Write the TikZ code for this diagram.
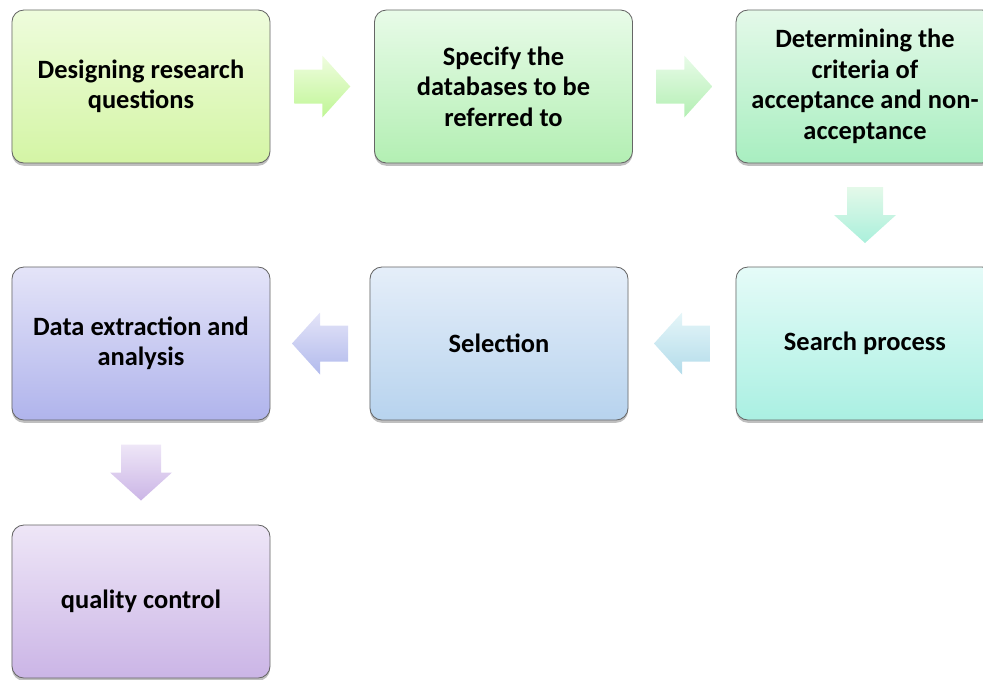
\documentclass[tikz,border=0pt]{standalone}
\usepackage{fontspec}
\setmainfont{Carlito}
\usepackage{tikz}
\usetikzlibrary{shadows,calc}
\definecolor{gA}{HTML}{EEFCDC}\definecolor{gAb}{HTML}{D4F5A5}
\definecolor{gB}{HTML}{E8FBE8}\definecolor{gBb}{HTML}{B3EFB3}
\definecolor{gC}{HTML}{E4F9E9}\definecolor{gCb}{HTML}{A8EEC0}
\definecolor{tA}{HTML}{E5FBF8}\definecolor{tAb}{HTML}{AAF0E2}
\definecolor{bA}{HTML}{E5EEF9}\definecolor{bAb}{HTML}{B7D3EE}
\definecolor{vA}{HTML}{E4E4F8}\definecolor{vAb}{HTML}{B0B4EC}
\definecolor{pA}{HTML}{EEE6F7}\definecolor{pAb}{HTML}{CBB5E6}

\begin{document}
\begin{tikzpicture}[x=0.025cm, y=-0.025cm,
step box/.style={rectangle, rounded corners=0.3cm, draw=black!60, line width=0.6pt,
  minimum width=6.45cm, minimum height=3.825cm, align=center,
  font=\fontsize{18.8}{21.7}\selectfont\bfseries,
  drop shadow={shadow xshift=0pt, shadow yshift=-0.07cm, opacity=0.25, fill=black}},
flow/.style={draw=none},
]
\clip (0,0) rectangle (983,679);

\node[step box, top color=gA, bottom color=gAb] (design) at (141,86.5) {Designing research\\questions};
\node[step box, top color=gB, bottom color=gBb] (dbase) at (503.5,86.5) {Specify the\\databases to be\\referred to};
\node[step box, top color=gC, bottom color=gCb] (crit) at (865,86.5) {Determining the\\criteria of\\acceptance and non-\\acceptance};
\node[step box, top color=tA, bottom color=tAb] (search) at (865,343.5) {Search process};
\node[step box, top color=bA, bottom color=bAb] (select) at (499,343.5) {Selection};
\node[step box, top color=vA, bottom color=vAb] (extract) at (141,343.5) {Data extraction and\\analysis};
\node[step box, top color=pA, bottom color=pAb] (quality) at (141,601.5) {quality control};

\coordinate (a1) at ($(design.east)!0.5!(dbase.west)$);
\coordinate (a2) at ($(dbase.east)!0.5!(crit.west)$);
\coordinate (a3) at ($(crit.south)!0.5!(search.north)$);
\coordinate (a4) at ($(search.west)!0.5!(select.east)$);
\coordinate (a5) at ($(select.west)!0.5!(extract.east)$);
\coordinate (a6) at ($(extract.south)!0.5!(quality.north)$);

% block arrows
\path[flow, shift={(a1)}, top color=gA!90!white, bottom color=gAb!90!green]
  (-28,-17) -- (0,-17) -- (0,-31) -- (28,0) -- (0,31) -- (0,17) -- (-28,17) -- cycle;
\path[flow, shift={(a2)}, top color=gB, bottom color=gBb]
  (-28,-17) -- (0,-17) -- (0,-31) -- (28,0) -- (0,31) -- (0,17) -- (-28,17) -- cycle;
\path[flow, shift={(a3)}, top color=gC, bottom color=tAb!80!gCb]
  (-18,-28) -- (18,-28) -- (18,0) -- (31,0) -- (0,28) -- (-31,0) -- (-18,0) -- cycle;
\path[flow, shift={(a4)}, top color=tA!60!bA, bottom color=bAb!70!tAb]
  (28,-18) -- (0,-18) -- (0,-31) -- (-28,0) -- (0,31) -- (0,18) -- (28,18) -- cycle;
\path[flow, shift={(a5)}, top color=vA, bottom color=vAb!80!bAb]
  (28,-18) -- (0,-18) -- (0,-31) -- (-28,0) -- (0,31) -- (0,18) -- (28,18) -- cycle;
\path[flow, shift={(a6)}, top color=pA, bottom color=pAb]
  (-20,-28) -- (20,-28) -- (20,0) -- (31,0) -- (0,28) -- (-31,0) -- (-20,0) -- cycle;
\end{tikzpicture}
\end{document}
